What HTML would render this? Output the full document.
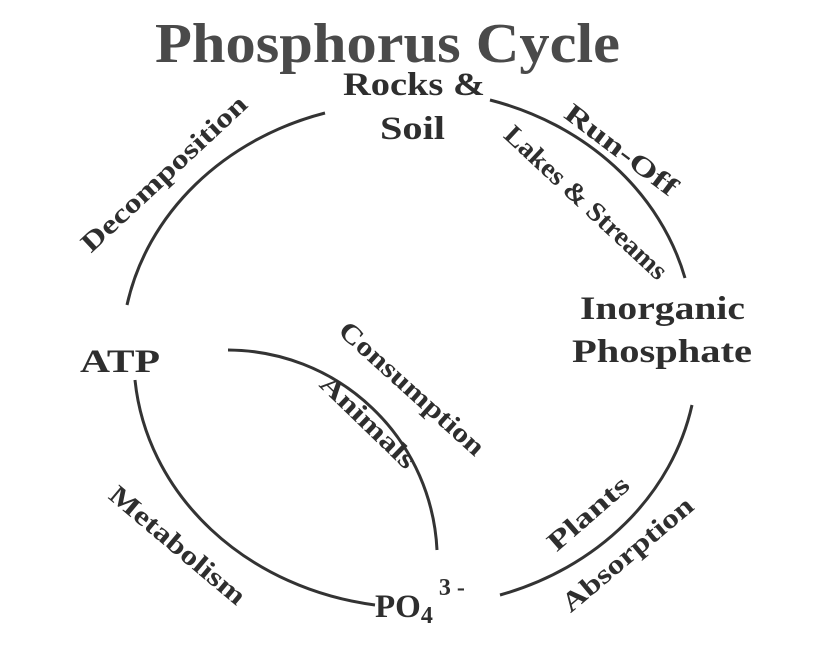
<!DOCTYPE html>
<html><head><meta charset="utf-8"><style>
html,body{margin:0;padding:0;background:#fff;}
svg{display:block;}
text{font-family:"Liberation Serif",serif;font-weight:bold;fill:#2e2e2e;}
</style></head><body>
<svg width="834" height="651" viewBox="0 0 834 651" xmlns="http://www.w3.org/2000/svg">
<rect width="834" height="651" fill="#fff"/>
<text x="155" y="62" font-size="56" textLength="465" lengthAdjust="spacingAndGlyphs" style="fill:#4a4a4a">Phosphorus Cycle</text>
<g fill="none" stroke="#333" stroke-width="3">
<path d="M325,113 A282,250 0 0 0 127,305"/>
<path d="M490,100 A282,250 0 0 1 685,278"/>
<path d="M692,405 A282,250 0 0 1 500,595"/>
<path d="M135,380 A282,250 0 0 0 375,605"/>
<path d="M228,350 A210,210 0 0 1 437,550"/>
</g>
<g font-size="33">
<text x="343" y="95" textLength="142" lengthAdjust="spacingAndGlyphs">Rocks &amp;</text>
<text x="380" y="139" textLength="65" lengthAdjust="spacingAndGlyphs">Soil</text>
<text x="580" y="319" textLength="165" lengthAdjust="spacingAndGlyphs">Inorganic</text>
<text x="572" y="362" textLength="180" lengthAdjust="spacingAndGlyphs">Phosphate</text>
<text x="80" y="372" textLength="80" lengthAdjust="spacingAndGlyphs">ATP</text>
<text x="375" y="617">PO<tspan font-size="24" dy="6">4</tspan><tspan font-size="24" dy="-28" dx="6">3 -</tspan></text>
</g>
<g font-size="27" text-anchor="middle">
<text transform="translate(170,180) rotate(-43)" textLength="216" lengthAdjust="spacingAndGlyphs">Decomposition</text>
<text transform="translate(616,157) rotate(37)" textLength="134" lengthAdjust="spacingAndGlyphs">Run-Off</text>
<text transform="translate(580,209) rotate(43)" textLength="212" lengthAdjust="spacingAndGlyphs">Lakes &amp; Streams</text>
<text transform="translate(406,395) rotate(42)" textLength="186" lengthAdjust="spacingAndGlyphs">Consumption</text>
<text transform="translate(362,428) rotate(44)" textLength="122" lengthAdjust="spacingAndGlyphs">Animals</text>
<text transform="translate(172,552) rotate(40)" textLength="169" lengthAdjust="spacingAndGlyphs">Metabolism</text>
<text transform="translate(594,520) rotate(-41)" textLength="99" lengthAdjust="spacingAndGlyphs">Plants</text>
<text transform="translate(633,561) rotate(-40)" textLength="163" lengthAdjust="spacingAndGlyphs">Absorption</text>
</g>
</svg>
</body></html>
